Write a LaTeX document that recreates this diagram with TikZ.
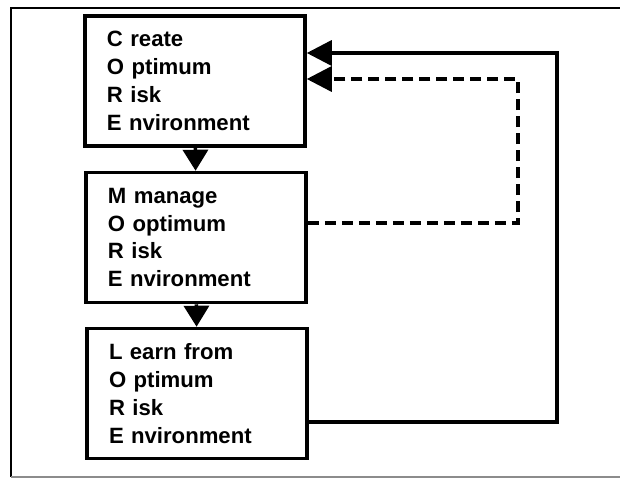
\documentclass[tikz,border=0pt]{standalone}
\usepackage{fontspec}
\setmainfont{Liberation Sans}
\usetikzlibrary{arrows.meta,positioning}
\tikzset{
  stage/.style={
    draw=black,
    line width=2pt,
    fill=white,
    align=left,
    font=\fontsize{12.6}{15.9}\selectfont\bfseries,
    text width=3.52cm,
    inner xsep=0.44cm,
    minimum height=2.6cm
  },
  flow/.style={line width=2pt, -{Triangle[length=0.42cm, width=0.5cm]}},
  feedback/.style={line width=2pt, -{Triangle[length=0.5cm, width=0.5cm]}},
  review/.style={feedback, dash pattern=on 0.22cm off 0.12cm}
}
\begin{document}
\begin{tikzpicture}[x=1cm,y=1cm]
\useasboundingbox (0,0) rectangle (12.4,9.6);
% outer frame, open to the right
\draw[line width=1.3pt] (12.5,9.44) -- (0.22,9.44) -- (0.22,0.06);
\draw[line width=0.6pt, black!45] (0.22,0.06) -- (12.5,0.06);

\node[stage] (create) at (3.9,7.98) {C reate\\O ptimum\\R isk\\E nvironment};
\node[stage] (manage) at (3.92,4.85) {M manage\\O optimum\\R isk\\E nvironment};
\node[stage] (learn) at (3.94,1.73) {L earn from\\O ptimum\\R isk\\E nvironment};

\draw[flow] (create) -- (manage);
\draw[flow] (manage) -- (learn);

% loops back to the top box
\coordinate (backtop) at (11.14,8.54);
\coordinate (backlow) at (11.14,1.16);
\coordinate (dashtop) at (10.36,8.02);
\coordinate (dashlow) at (10.36,5.14);
\draw[feedback] (learn.east |- backlow) -- (backlow) -- (backtop) -- (create.east |- backtop);
\draw[review] (manage.east |- dashlow) -- (dashlow) -- (dashtop) -- (create.east |- dashtop);
\end{tikzpicture}
\end{document}
